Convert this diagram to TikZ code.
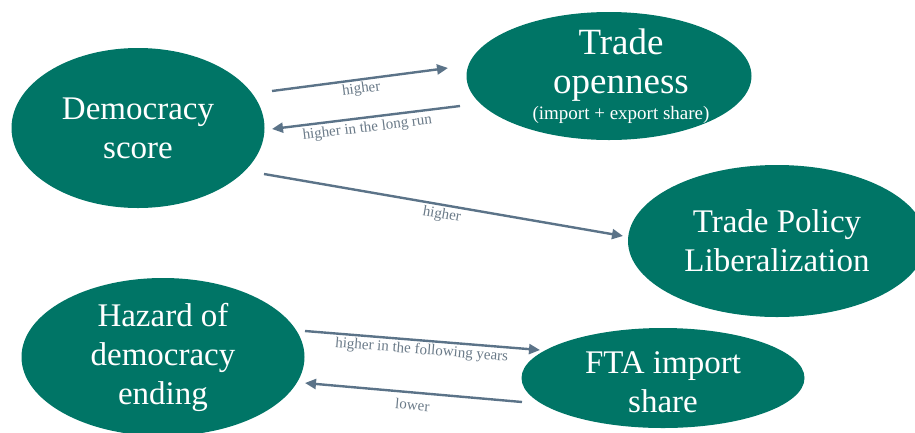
\documentclass[tikz,border=0pt]{standalone}
\usepackage{fontspec}
\setmainfont{Liberation Serif}
\usetikzlibrary{shapes.geometric,arrows.meta}
\definecolor{teal1}{HTML}{007566}
\definecolor{arr}{HTML}{5B7388}
\definecolor{lab}{HTML}{6A7A88}
\tikzset{
  bubble/.style={ellipse, fill=teal1, text=white, inner sep=0pt, align=center,
    font=\fontsize{33}{39}\selectfont},
  bubbletext/.style={text=white, inner sep=0pt, align=center},
  link/.style={draw=arr, line width=2.4pt, -{Triangle[length=11pt,width=10pt]}},
  lbl/.style={text=lab, font=\fontsize{15}{17}\selectfont, sloped, inner sep=2pt}
}
\begin{document}
\begin{tikzpicture}[x=1pt,y=-1pt]
\useasboundingbox (0,0) rectangle (915,432);
\clip (0,0) rectangle (915,432);
\node[bubble, minimum width=253pt, minimum height=160pt] (dem) at (138,128) {Democracy\\score};
\node[bubble, minimum width=285pt, minimum height=128pt] (open) at (609,76) {};
\node[bubbletext, font=\fontsize{37}{39}\selectfont] (opentext) at (621,76)
  {Trade\\openness\\[-13pt]{\fontsize{19}{20}\selectfont (import + export share)}};
\node[bubble, minimum width=298pt, minimum height=152pt] (lib) at (777,241) {Trade Policy\\Liberalization};
\node[bubble, minimum width=283pt, minimum height=158pt] (haz) at (163,357) {Hazard of\\democracy\\ending};
\node[bubble, minimum width=283pt, minimum height=100pt] (fta) at (663,378) {};
\node[bubbletext, font=\fontsize{33}{39}\selectfont] (ftatext) at (663,382) {FTA import\\share};

\coordinate (a1s) at (272,91);  \coordinate (a1e) at (448,68);
\coordinate (a2s) at (460,106); \coordinate (a2e) at (272,129);
\coordinate (a3s) at (264,174); \coordinate (a3e) at (623,236);
\coordinate (a4s) at (305,331); \coordinate (a4e) at (540,350);
\coordinate (a5s) at (522,402); \coordinate (a5e) at (305,383);

\draw[link] (a1s) -- node[lbl, below] {higher} (a1e);
\draw[link] (a2s) -- node[lbl, above, yshift=-21pt] {higher in the long run} (a2e);
\draw[link] (a3s) -- node[lbl, below] {higher} (a3e);
\draw[link] (a4s) -- node[lbl, below] {higher in the following years} (a4e);
\draw[link] (a5s) -- node[lbl, above, yshift=-21pt] {lower} (a5e);
\end{tikzpicture}
\end{document}
